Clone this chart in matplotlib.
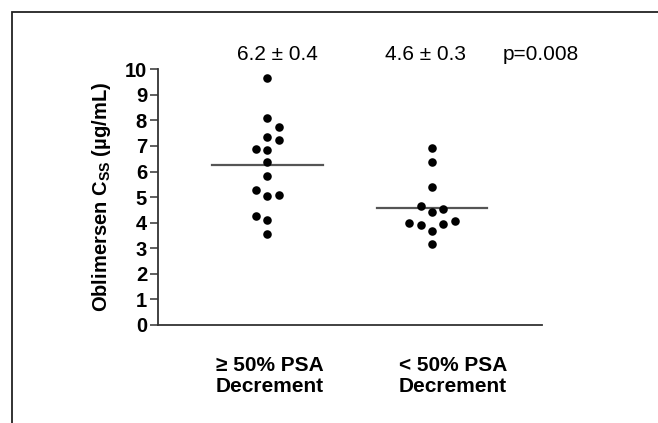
import numpy as np
import matplotlib.pyplot as plt
from matplotlib.patches import Rectangle

plt.rcParams['font.family'] = ['Liberation Sans', 'DejaVu Sans']
plt.rcParams['mathtext.fontset'] = 'custom'
plt.rcParams['mathtext.rm'] = 'Liberation Sans'
plt.rcParams['mathtext.bf'] = 'Liberation Sans:bold'

# Oblimersen Css par groupe
groupes = ['\u2265 50% PSA\nDecrement', '< 50% PSA\nDecrement']
css_g1 = [9.65, 8.08, 7.74, 7.34, 7.22, 6.88, 6.84, 6.39, 5.84,
          5.28, 5.10, 5.06, 4.26, 4.11, 3.56]
decal_g1 = [0, 0, 1, 0, 1, -1, 0, 0, 0, -1, 1, 0, -1, 0, 0]
css_g2 = [6.91, 6.39, 5.41, 4.65, 4.52, 4.43, 4.08, 4.00, 3.94, 3.91, 3.69, 3.17]
decal_g2 = [0, 0, 0, -1, 1, 0, 2, -2, 1, -1, 0, 0]
moyennes = [6.24, 4.59]
resume = ['6.2 \u00b1 0.4', '4.6 \u00b1 0.3']
p_valeur = 'p=0.008'

fig = plt.figure(figsize=(6.58, 4.23), dpi=100)
ax = fig.add_axes([0.2401, 0.2317, 0.5836, 0.6045])

# cadre autour de la figure (coupé à droite et en bas)
fig.patches.append(Rectangle((12 / 658, -0.2), 1.2, 1.2 - 12 / 423,
                             transform=fig.transFigure, fill=False,
                             edgecolor='#222222', lw=1.3))

dx = 0.069
for i, (vals, dec) in enumerate([(css_g1, decal_g1), (css_g2, decal_g2)]):
    xs = (i + 1) + np.array(dec) * dx
    ax.scatter(xs, vals, s=38, color='black', zorder=3, linewidths=0)
    ax.plot([i + 1 - 0.335, i + 1 + 0.335], [moyennes[i]] * 2,
            color='#555555', lw=1.6, zorder=2)

ax.set_xlim(0.335, 2.669)
ax.set_ylim(0, 10)
ax.set_yticks(range(0, 11))
ax.set_xticks([])
for s in ['top', 'right']:
    ax.spines[s].set_visible(False)
for s in ['left', 'bottom']:
    ax.spines[s].set_linewidth(1.3)
    ax.spines[s].set_color('#333333')
ax.tick_params(axis='y', length=5.5, width=1.1, color='#333333', pad=2.4,
               labelsize=14.5)
for lab in ax.get_yticklabels():
    lab.set_fontweight('bold')

ax.set_ylabel('Oblimersen C$_{\\mathbf{SS}}$ (\u00b5g/mL)', fontsize=14.5,
              fontweight='bold')
ax.yaxis.set_label_coords(-0.117, 0.5)

# étiquettes des groupes
for x, g in zip([1.016, 2.128], groupes):
    ax.text(x, -0.12, g, transform=ax.get_xaxis_transform(), ha='center',
            va='top', fontsize=15, fontweight='bold', linespacing=1.15)

# moyennes +/- erreur et p
for x, r in zip([1.06, 1.96], resume):
    ax.text(x, 10.56, r, ha='center', va='center', fontsize=15, clip_on=False)
ax.text(2.66, 10.56, p_valeur, ha='center', va='center', fontsize=15,
        clip_on=False)

fig.savefig('out.png', dpi=100)
